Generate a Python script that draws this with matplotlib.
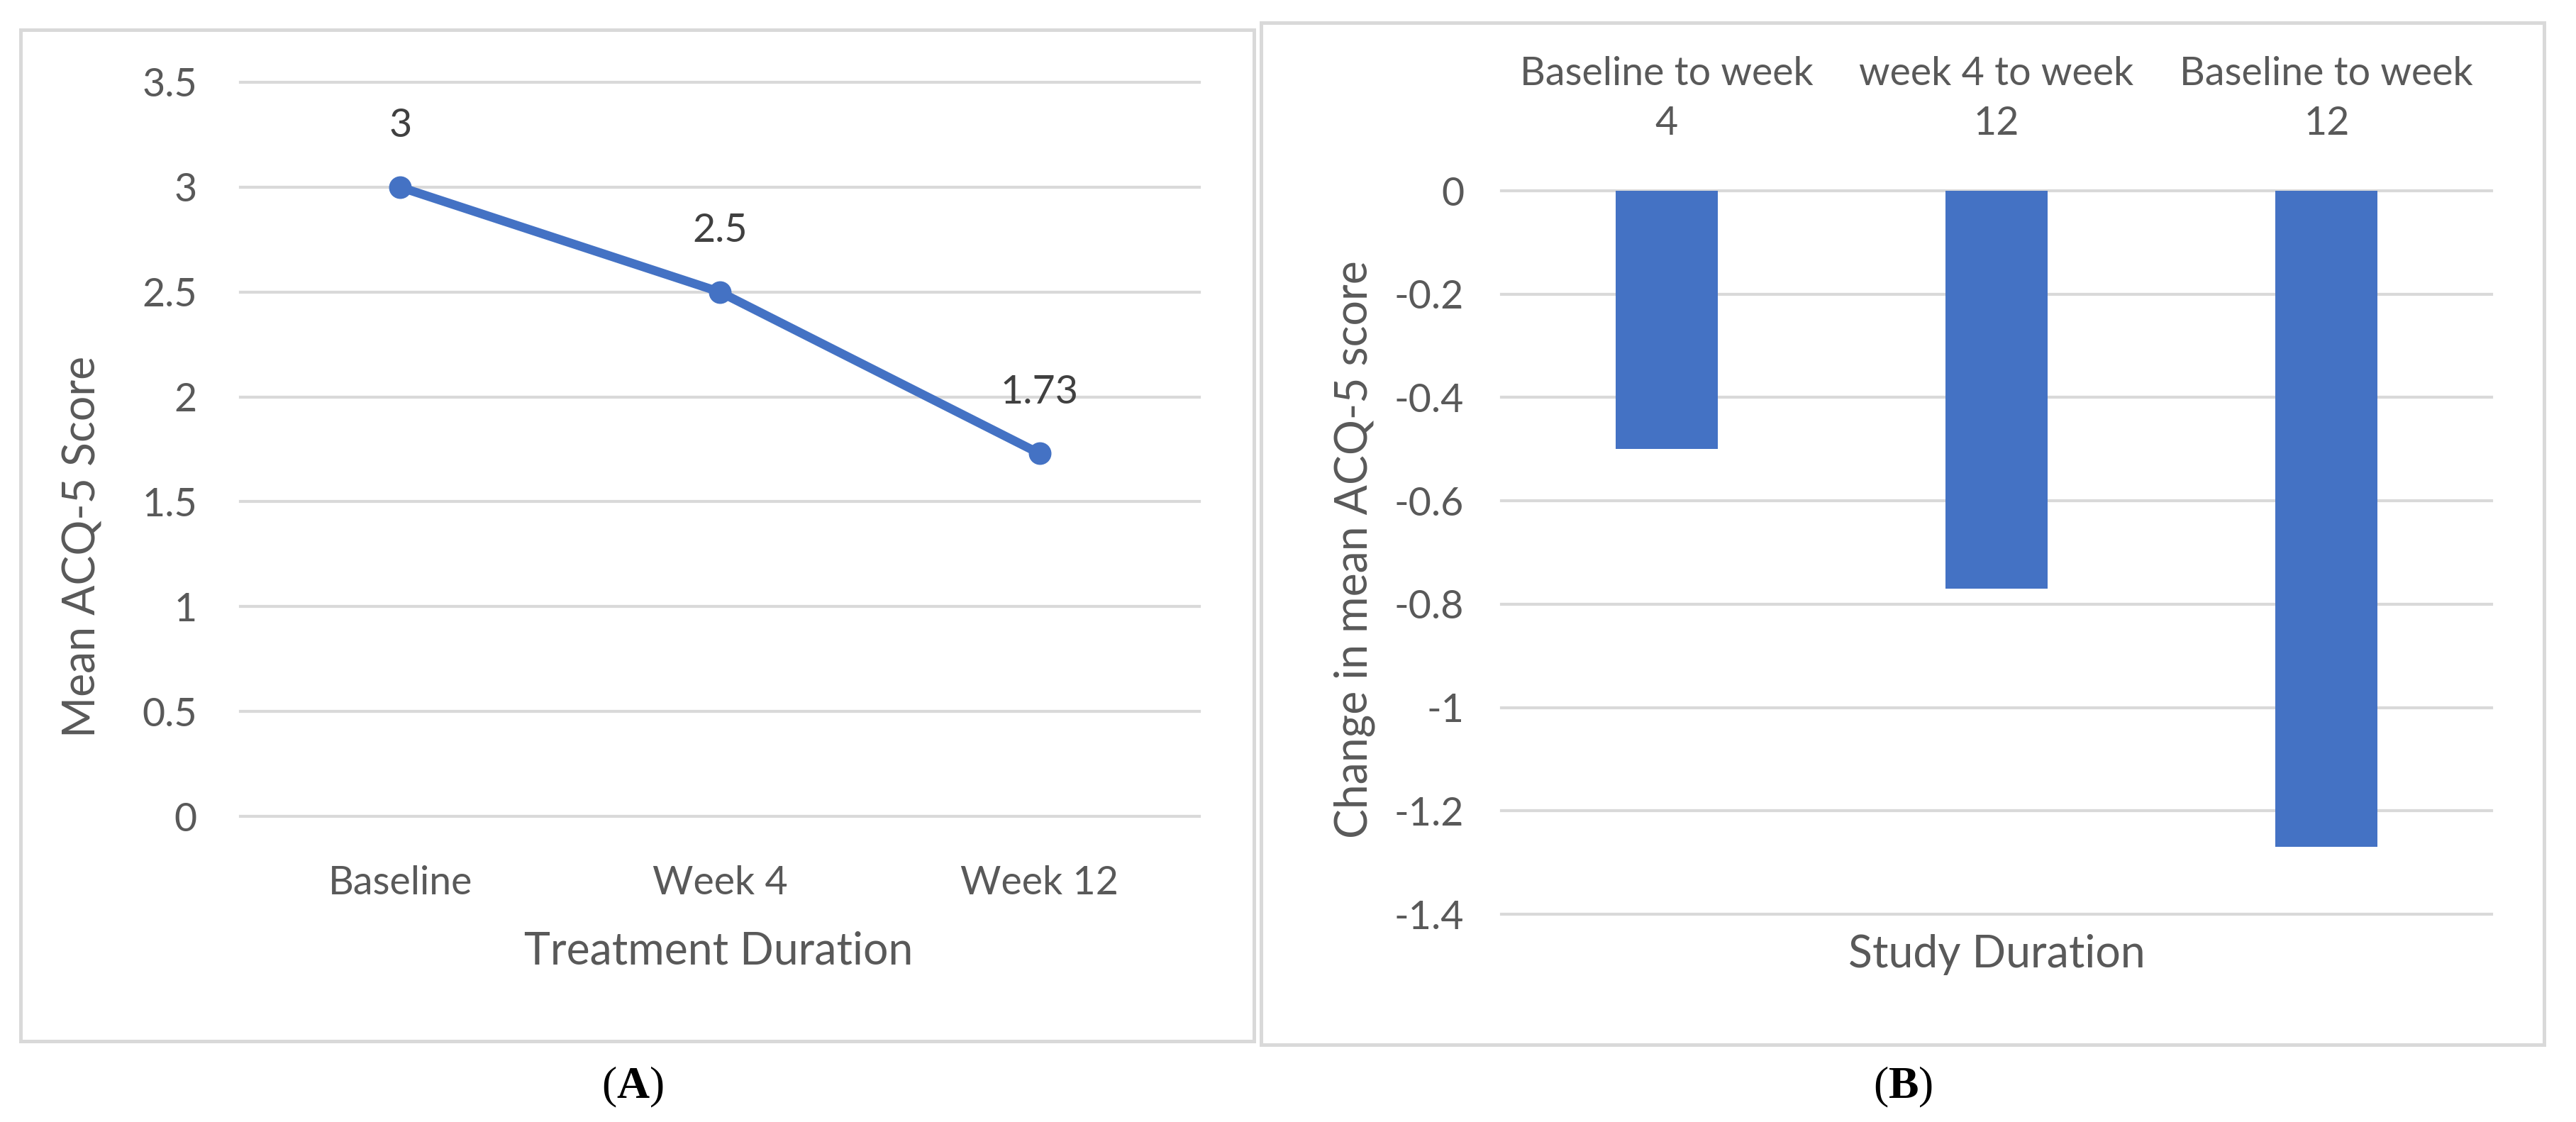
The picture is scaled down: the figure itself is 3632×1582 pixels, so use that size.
import numpy as np
import matplotlib.pyplot as plt
from matplotlib.patches import Rectangle

plt.rcParams['font.family'] = ['Lato', 'DejaVu Sans']
plt.rcParams['axes.unicode_minus'] = False
plt.rcParams['mathtext.fontset'] = 'custom'
plt.rcParams['mathtext.rm'] = 'Liberation Serif'
plt.rcParams['mathtext.bf'] = 'Liberation Serif:bold'

# panel A data
time_points = ['Baseline', 'Week 4', 'Week 12']
mean_acq = [3, 2.5, 1.73]
yticks_a = [0, 0.5, 1, 1.5, 2, 2.5, 3, 3.5]

# panel B data
periods = ['Baseline to week\n4', 'week 4 to week\n12', 'Baseline to week\n12']
change_acq = [-0.5, -0.77, -1.27]
yticks_b = [0, -0.2, -0.4, -0.6, -0.8, -1, -1.2, -1.4]

blue = '#4472C4'
grid_c = '#D9D9D9'
txt_c = '#595959'
lab_c = '#404040'

W, H = 3632, 1582
fig = plt.figure(figsize=(W / 100, H / 100), dpi=100)


def fr(x0, y0, x1, y1):
    # pixel box -> figure fraction
    return [x0 / W, 1 - y1 / H, (x1 - x0) / W, (y1 - y0) / H]


# panel frames
for x0, y0, x1, y1 in [(29, 42, 1768, 1468), (1778, 32, 3587, 1473)]:
    fig.patches.append(Rectangle((x0 / W, 1 - y1 / H), (x1 - x0) / W, (y1 - y0) / H,
                                 transform=fig.transFigure, fill=False,
                                 edgecolor=grid_c, linewidth=3.6))

fs = 40
fs_title = 45

# ---- A
axA = fig.add_axes(fr(339, 116, 1691, 1151))
x = np.arange(len(time_points))
axA.plot(x, mean_acq, color=blue, lw=9, marker='o', ms=22, zorder=3)
for xi, v in zip(x, mean_acq):
    axA.annotate(f'{v:g}', (xi, v), xytext=(0, 62), textcoords='offset points',
                 ha='center', va='center', fontsize=fs, color=lab_c)
axA.set_xlim(-0.5, 2.5)
axA.set_ylim(0, 3.5)
axA.set_yticks(yticks_a)
axA.set_yticklabels([f'{v:g}' for v in yticks_a])
axA.set_xticks(x)
axA.set_xticklabels(time_points)
axA.tick_params(axis='y', length=0, pad=44, labelsize=fs, labelcolor=txt_c)
axA.tick_params(axis='x', length=0, pad=50, labelsize=fs, labelcolor=txt_c)
axA.grid(axis='y', color=grid_c, lw=3)
axA.set_axisbelow(True)
for s in axA.spines.values():
    s.set_visible(False)
for gl in axA.get_ygridlines():
    gl.set_clip_on(False)

fig.text(1013 / W, 1 - 1341 / H, 'Treatment Duration', ha='center', va='center',
         fontsize=fs_title, color=txt_c)
fig.text(117 / W, 1 - 771 / H, 'Mean ACQ-5 Score', ha='center', va='center',
         rotation=90, fontsize=fs_title, color=txt_c)
fig.text(892 / W, 1 - 1533 / H, r'($\mathbf{A}$)', ha='center', va='center',
         fontsize=46, family='Liberation Serif', color='black')

# ---- B
axB = fig.add_axes(fr(2117, 269, 3513, 1289))
xb = np.arange(len(periods))
axB.bar(xb, change_acq, width=0.31, color=blue, zorder=3)
axB.set_xlim(-0.5, 2.5)
axB.set_ylim(-1.4, 0)
axB.set_yticks(yticks_b)
axB.set_yticklabels([f'{v:g}' for v in yticks_b])
axB.xaxis.tick_top()
axB.set_xticks(xb)
axB.set_xticklabels(periods, linespacing=1.45)
axB.tick_params(axis='y', length=0, pad=38, labelsize=fs, labelcolor=txt_c)
axB.tick_params(axis='x', length=0, pad=50, labelsize=fs, labelcolor=txt_c)
axB.grid(axis='y', color=grid_c, lw=3)
axB.set_axisbelow(True)
for s in axB.spines.values():
    s.set_visible(False)
for gl in axB.get_ygridlines():
    gl.set_clip_on(False)

fig.text(2815 / W, 1 - 1346 / H, 'Study Duration', ha='center', va='center',
         fontsize=fs_title, color=txt_c)
fig.text(1910 / W, 1 - 775 / H, 'Change in mean ACQ-5 score', ha='center', va='center',
         rotation=90, fontsize=fs_title, color=txt_c)
fig.text(2683 / W, 1 - 1533 / H, r'($\mathbf{B}$)', ha='center', va='center',
         fontsize=46, family='Liberation Serif', color='black')

fig.savefig('out.png', dpi=100, facecolor='white')
